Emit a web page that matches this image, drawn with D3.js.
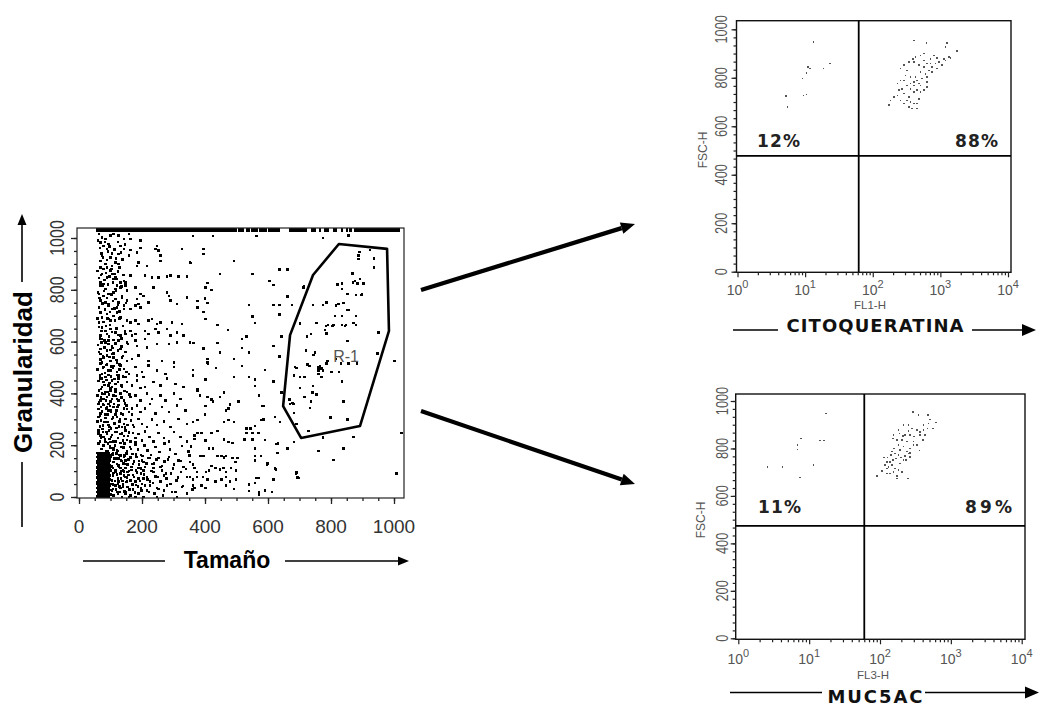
<!DOCTYPE html>
<html>
<head>
<meta charset="utf-8">
<script src="https://cdn.jsdelivr.net/npm/d3@7"></script>
<style>
  body { margin: 0; background: #fff; }
  svg { display: block; font-family: "Liberation Sans", Arial, sans-serif; }
</style>
</head>
<body>
<svg id="fig" width="1040" height="707"></svg>
<script>
// ---------------- Datos: panel Tamaño / Granularidad ----------------
const ticksLineales = [0, 200, 400, 600, 800, 1000];
const ticksLog = [1, 10, 100, 1000, 10000];

// eventos dispersos (Tamaño, Granularidad), zona superior izquierda
const nubeSuperior = [
 [63,1015],[73,1003],[84,996],[100,1009],[110,1015],[126,1009],[142,996],[158,1015],[163,996],[195,990],[68,983],[94,977],
 [78,970],[89,957],[131,970],[142,957],[163,954],[195,961],[242,957],[253,951],[248,970],[327,957],[73,932],[100,925],[126,938],[158,932],[184,945],[258,932],
 [68,912],[84,900],[89,887],[105,893],[115,906],[126,900],[184,893],[189,906],[216,893],[258,912],[353,906],[68,887],[78,880],[100,874],[129,887],
 [73,861],[89,848],[110,842],[115,848],[105,861],[131,829],[163,855],[210,855],[232,848],[253,848],[279,851],[290,855],[316,851],[343,851],[142,835],[68,829],
 [68,816],[78,822],[84,803],[115,803],[120,816],[131,809],[147,816],[152,797],[179,809],[195,784],[205,777],[237,809],[279,790],[285,777],[343,771],[63,784],[94,784],[110,790],[137,777],[78,777],
 [68,758],[84,752],[94,745],[115,764],[126,752],[142,739],[152,758],[184,764],[189,745],[195,732],[221,752],[290,758],[311,745],[63,732],[105,726],[120,732],[163,726],[179,739],
 [68,713],[73,694],[89,707],[94,687],[100,681],[110,700],[120,713],[131,694],[152,681],[163,674],[179,681],[189,668],[221,681],[232,687],[248,668],[258,674],[295,674],[327,668],[63,674],
 [73,655],[84,642],[89,629],[100,649],[115,636],[131,623],[147,629],[163,642],[168,623],[179,629],[210,642],[221,629],[242,649],[253,636],[279,649],[290,623],[311,636],[332,623],[68,623],
 [73,610],[84,597],[94,604],[105,584],[115,591],[126,604],[137,584],[152,597],[179,604],[184,584],[210,610],[216,578],[248,591],[285,591],[311,597],[353,597],[68,572],[100,568],[131,572],
 [68,552],[78,539],[89,546],[100,526],[110,539],[120,520],[137,539],[152,526],[168,533],[189,546],[221,526],[264,526],[301,520],[73,520],[105,552]
];

// zona inferior izquierda
const nubeInferior = [
 [68,515],[78,502],[89,511],[100,489],[110,506],[120,482],[131,508],[142,495],[158,476],[179,502],[200,482],[221,508],[248,489],[274,476],[301,502],[73,476],[94,472],[126,470],[184,470],
 [68,457],[78,444],[84,463],[94,431],[105,450],[115,437],[126,457],[137,424],[152,444],[168,431],[184,450],[205,463],[210,424],[237,444],[258,431],[279,457],[306,437],[332,424],[73,424],[100,421],[147,463],[195,421],
 [63,412],[73,399],[84,405],[89,386],[100,412],[110,392],[120,379],[131,399],[142,373],[152,405],[163,386],[179,392],[195,373],[216,399],[232,379],[258,392],[274,373],[301,399],[322,379],[68,373],[100,369],[78,379],[115,408],
 [62,360],[70,347],[78,356],[87,341],[94,360],[102,328],[110,347],[119,334],[126,356],[133,322],[142,341],[150,354],[158,328],[168,341],[184,354],[195,328],[210,341],[226,360],[242,322],[264,347],[285,328],[311,354],[338,334],[68,322],[84,318],[115,318],[94,334],
 [62,309],[70,296],[76,277],[84,305],[91,289],[97,270],[105,302],[112,283],[120,309],[129,292],[137,270],[147,302],[154,279],[165,296],[174,270],[189,302],[200,283],[216,270],[232,300],[248,279],[269,292],[290,270],[316,302],[343,283],[66,270],[119,266],[142,283],
 [62,257],[68,238],[76,251],[83,222],[89,244],[95,257],[102,231],[108,215],[115,251],[123,228],[131,244],[139,219],[147,257],[155,235],[163,215],[171,248],[179,228],[189,244],[200,219],[210,253],[224,231],[237,215],[253,248],[269,228],[285,215],[301,251],[322,231],[343,215],[66,215],[100,212],[142,235],[179,212],
 [62,206],[70,186],[78,199],[86,176],[92,206],[100,189],[107,171],[114,199],[121,180],[128,163],[135,193],[144,206],[152,176],[161,193],[169,167],[179,202],[187,184],[197,163],[207,199],[218,180],[229,163],[242,193],[256,174],[271,206],[288,184],[306,167],[327,197],[348,176],[68,163],[94,163],[142,163],[110,184],
 [102,154],[110,135],[119,148],[126,122],[133,141],[142,154],[150,128],[158,145],[166,116],[174,137],[182,154],[190,125],[200,141],[210,116],[221,150],[232,128],[246,145],[258,116],[271,137],[285,154],[301,125],[316,141],[332,116],[353,135],[108,112],[131,112],[163,154],[205,135],[147,141],[120,128],[189,112],[237,112],
 [100,103],[108,83],[115,96],[123,71],[131,90],[139,103],[147,77],[154,96],[163,64],[171,86],[180,103],[188,71],[197,90],[205,103],[216,77],[226,60],[237,96],[250,77],[264,103],[277,71],[292,90],[309,64],[324,96],[343,77],[105,64],[126,60],[152,60],[179,60],[142,83],[205,71],[269,83],
 [100,51],[108,32],[115,45],[123,13],[131,35],[140,51],[147,19],[154,38],[163,6],[171,29],[180,47],[188,13],[197,35],[205,0],[216,26],[226,45],[239,13],[253,32],[267,6],[279,45],[295,19],[311,0],[327,38],[343,13],[110,6],[137,0],[158,0],[179,0],[248,0],[200,51]
];

// banda densa junto al umbral de Tamaño
const bandaIzquierda = [
 [60,990],[66,962],[71,940],[76,925],[82,985],[88,915],[92,948],[97,968],[104,940],[112,955],[118,922],[124,985],[133,945],[138,918],[146,975],
 [59,872],[64,845],[70,858],[75,815],[81,838],[86,866],[92,820],[97,852],[103,880],[108,828],[113,861],[119,842],[124,870],[135,812],[141,858],[148,828],
 [60,790],[65,768],[69,712],[74,748],[79,795],[83,724],[88,768],[93,738],[98,715],[103,782],[108,756],[113,728],[118,798],[123,744],[128,716],[137,768],[143,726],[149,750],
 [59,690],[63,656],[67,612],[72,642],[77,676],[81,604],[86,661],[90,690],[95,620],[99,665],[104,638],[109,606],[114,682],[119,650],[124,626],[129,690],[135,612],[140,660],[146,640],
 [60,588],[64,560],[68,532],[72,596],[76,545],[81,578],[85,510],[89,565],[93,590],[97,540],[101,505],[106,575],[110,555],[115,592],[119,530],[124,566],[128,512],[134,582],[140,545],[148,560],[156,590],
 [59,492],[62,448],[66,470],[69,418],[73,458],[76,498],[80,432],[83,478],[87,452],[90,405],[94,488],[97,440],[101,465],[104,425],[108,498],[112,455],[116,418],[120,472],[124,445],[129,492],[134,430],[139,465],[145,410],[151,482],
 [59,392],[61,340],[64,365],[67,312],[70,385],[73,330],[76,358],[80,398],[83,305],[86,372],[89,345],[92,318],[95,395],[98,352],[101,335],[104,378],[108,308],[111,360],[115,390],[118,325],[122,348],[126,372],[130,302],[135,385],[140,318],[146,362],[152,340],[160,395],[168,318],
 [59,292],[61,245],[63,205],[66,272],[69,228],[72,185],[75,262],[78,232],[81,290],[84,212],[87,252],[90,178],[93,278],[96,224],[99,196],[102,265],[105,240],[109,188],[112,285],[116,215],[119,252],[123,178],[127,272],[131,208],[136,246],[141,192],[146,268],[152,220],[158,250],[165,185],[172,278],[180,228]
];

// base densa a la derecha del bloque saturado
const baseDensa = [
 [100,10],[104,25],[107,48],[111,8],[114,62],[118,30],[121,88],[124,52],[127,118],[130,20],[133,72],[136,140],[139,40],[142,98],[145,160],[148,12],[151,58],[154,125],[157,85],[160,30],
 [163,150],[166,105],[169,48],[172,128],[175,78],[178,18],[181,165],[184,95],[187,40],[190,140],[193,62],[196,110],[199,25],[202,158],[206,88],[210,45],[214,130],[218,68],[222,20],[226,150],
 [230,100],[234,55],[238,130],[243,80],[248,35],[253,150],[258,60],[264,120],[270,25],[276,90],[283,145],[290,50],[298,110],[306,20],[314,75],[322,140],[330,42],[340,108],[350,160],[360,30],
 [99,140],[103,118],[106,165],[109,92],[112,148],[116,104],[119,168],[122,20],[125,148],[129,40],[132,160],[135,100],[138,62],[141,130],[144,22],[147,112],[150,168],[153,76],[156,145],[159,100]
];

// zona central (Tamaño 350-720)
const zonaMedia = [
 [361,1007],[426,1007],[564,1007],[395,958],[395,938],[492,912],[356,903],[448,861],[551,861],[636,879],[662,879],[604,835],[617,819],[407,826],[401,810],[421,800],[712,810],[400,766],[376,757],[407,749],[376,732],[539,741],[617,741],[636,741],[676,741],[662,775],[395,714],[636,705],[401,687],[551,698],[559,672],[702,672],[440,664],[473,645],[532,619],[518,610],[643,619],[363,595],[440,595],[395,574],[518,575],[617,584],[448,559],[539,559],[636,542],[407,533],[407,520],[492,533],
 [409,515],[435,498],[518,506],[590,490],[361,490],[361,470],[402,454],[492,463],[539,463],[558,454],[617,446],[558,429],[691,498],[683,470],[702,463],[718,463],[702,421],[376,418],[376,409],[384,393],[407,386],[421,377],[426,369],[448,386],[460,403],[506,369],[571,393],[643,403],[670,360],[680,360],[402,351],[479,358],[474,341],[467,335],[585,351],[683,325],[400,318],[622,309],[638,290],[361,290],[376,297],[460,290],[474,297],[492,290],[578,297],[691,283],[532,264],[545,264],[558,274],[569,248],[532,248],[551,248],[367,238],[367,225],[376,248],[389,248],[421,248],[440,255],[402,219],[460,223],[474,212],[487,208],[525,223],[551,223],[631,206],[664,189],[683,212],[356,196],[413,187],[426,187],[559,187],[630,171],[386,158],[395,158],[440,158],[452,158],[460,152],[467,158],[487,151],[503,151],[558,158],[558,142],[578,158],[497,135],[598,129],[361,126],[367,112],[421,120],[413,103],[433,112],[448,107],[458,112],[482,112],[498,102],[374,97],[403,97],[467,97],[625,107],[352,77],[361,68],[374,77],[393,77],[407,68],[433,60],[452,68],[467,77],[479,60],[498,68],[564,73],[571,73],[617,68],[691,94],[696,73],[361,45],[367,35],[389,45],[402,35],[467,45],[492,32],[539,49],[558,55],[539,23],[571,17],[571,7],[591,26],[612,19]
];

// región R-1 y derecha
const zonaR1 = [
 [774,1000],[855,1009],[887,932],[887,919],[937,922],[937,887],[866,861],[714,812],[820,820],[834,825],[869,829],[876,835],[892,842],[884,825],[903,825],[834,803],[852,784],[879,781],[898,784],[742,741],[774,741],[786,752],[816,739],[823,745],[839,749],[852,722],[813,700],[834,700],[879,699],[754,672],[791,665],[807,665],[834,665],[848,665],[871,672],[879,664],[781,645],[786,632],[723,619],[737,629],[950,636],[853,602],[721,565],[744,549],[749,559],[816,533],[788,526],[947,555],[1001,526],
 [725,511],[731,506],[765,506],[786,515],[831,515],[855,515],[882,515],[760,489],[774,489],[760,476],[770,463],[802,483],[826,483],[715,463],[834,446],[742,429],[741,403],[754,395],[715,386],[736,369],[839,369],[733,344],[800,309],[853,300],[728,255],[774,229],[871,232],[760,178],[839,187],[807,144],[1024,247],[1008,90],
 [890,947],[924,954],[868,863],[897,780],[855,722],[702,671],[784,660],[805,660],[844,660],[760,501],[770,497],[686,503],[668,377],[678,364],[752,394],[583,351],[585,300],[590,220],[627,205],[662,188],[596,126],[622,111],[617,68],[689,91],[693,75],[590,24],[799,307],[852,297]
];

// bloque saturado: [Granularidad, Tamaño...]
const bloqueSaturado = [
 [3,58,64,70,76,82,88,94],[11,60,66,72,78,84,90,96],[19,58,63,69,75,81,87,93],[27,61,67,73,79,85,91,96],
 [35,58,64,70,76,82,88,94],[43,60,66,72,78,84,90,96],[51,59,65,71,77,83,89,95],[59,58,64,70,76,82,88,94],
 [67,61,67,73,79,85,91,96],[75,58,63,69,75,81,87,93],[83,60,66,72,78,84,90,96],[91,59,65,71,77,83,89,95],
 [99,58,64,70,76,82,88,94],[107,61,67,73,79,85,91,96],[115,58,63,69,75,81,87,93],[123,60,66,72,78,84,90,96],
 [131,59,65,71,77,83,89,95],[139,58,64,70,76,82,88,94],[147,61,67,73,79,85,91,96],[155,58,63,69,75,81,87,93],
 [163,60,66,72,78,84,90,96],[170,59,65,71,77,83,89,95]
];

// eventos saturados en el máximo de Granularidad
const filaSuperiorX = [
 57,63,69,75,81,87,93,99,105,111,117,123,129,135,141,147,153,159,165,171,177,183,189,195,201,207,213,219,225,231,237,243,249,255,
 261,267,273,279,285,291,297,303,309,315,321,327,333,339,345,351,357,363,369,375,381,387,393,399,405,411,417,423,429,435,441,447,
 453,459,465,471,477,483,491,497,509,515,521,533,539,551,557,563,575,581,587,593,605,611,617,623,629,635,671,677,683,689,695,701,
 707,713,719,741,747,765,783,789,809,815,834,850,861,877,883,889,895,901,907,913,919,925,931,937,943,949,955,961,967,973,979,985,
 991,997,1003,1009,1015
];
const filaSuperiorY = 1030;

// región R-1 (vértices)
const puertaR1 = [[825,977],[978,958],[984,641],[892,274],[705,228],[648,351],[670,625],[743,857]];

// ---------------- Datos: paneles de cuadrantes ----------------
const citoUL = [[13.2,948],[11.0,845],[11.8,838],[10.5,820],[9.1,797],[5.2,725],[5.5,680],[9.4,728],[10.5,732],[18.6,838],[23.1,859]];
const citoUR = [
 [406,955],[624,944],[1259,944],[1189,927],[1766,911],[258,838],[288,852],[342,865],[396,879],[406,865],[429,886],[569,900],[569,872],[637,859],[714,879],[800,893],[895,883],[845,859],[755,845],[675,831],
 [895,838],[1062,852],[1122,879],[1330,886],[1409,883],[508,824],[603,817],[637,804],[538,797],[454,790],[406,783],[361,776],[323,769],[288,790],[272,755],[243,749],[288,735],[342,721],[406,742],[454,749],
 [508,742],[480,776],[406,769],[230,728],[258,707],[288,694],[323,707],[361,701],[406,694],[454,673],[383,673],[183,707],[173,687],[205,721],[361,755],[637,783],[637,762],[755,824],[569,845],[480,852],
 [508,893],[714,859],[948,865],[1189,872],[361,804],[305,810],[323,831],[258,790],[230,776],[429,804],[480,714],[454,694],[342,680],[508,769],[569,749]
];
const mucUL = [[2.57,723],[4.18,723],[6.8,815],[6.8,796],[7.67,843],[7.43,678],[11.5,730],[14.2,834],[16.2,834],[17.3,948]];
const mucUR = [
 [289,955],[348,941],[471,941],[508,923],[618,909],[554,885],[466,885],[409,878],[367,871],[329,878],[280,885],[251,899],[213,899],[251,874],[182,878],[188,864],[225,857],[265,857],[302,850],[367,857],
 [400,836],[296,829],[296,815],[329,815],[238,829],[202,836],[154,857],[151,843],[172,836],[359,791],[213,808],[238,787],[251,780],[265,782],[192,795],[163,780],[146,787],[182,772],[225,768],[168,758],
 [151,751],[138,744],[124,744],[118,730],[131,723],[146,730],[163,716],[182,709],[202,702],[172,684],[138,695],[124,695],[106,706],[90,684],[154,702],[246,674],[172,674],[124,716],[213,751],[192,737],
 [265,765],[233,751],[158,801],[182,815],[209,853],[409,899],[481,906],[142,772],[127,763],[114,763],[432,857],[265,801],[196,763]
];
const cortesCito = [62, 478];
const cortesMuc = [60, 474];
const porcentajesCito = ["12%", "88%"];
const porcentajesMuc = ["11%", "89%"];

// ---------------- Dibujo ----------------
const svg = d3.select("#fig");

function flecha(g, x1, y1, x2, y2, ancho, largo, media) {
  const ang = Math.atan2(y2 - y1, x2 - x1);
  const bx = x2 - largo * Math.cos(ang), by = y2 - largo * Math.sin(ang);
  g.append("line").attr("x1", x1).attr("y1", y1).attr("x2", bx).attr("y2", by)
    .attr("stroke", "#000").attr("stroke-width", ancho);
  const px = -Math.sin(ang) * media, py = Math.cos(ang) * media;
  g.append("polygon")
    .attr("points", [[x2, y2], [bx + px, by + py], [bx - px, by - py]].map(p => p.join(",")).join(" "))
    .attr("fill", "#000");
}

// --- Panel principal ---
const xMain = d3.scaleLinear().domain([0, 1000]).range([79, 394]);
const yMain = d3.scaleLinear().domain([0, 1000]).range([497, 238]);
const main = svg.append("g");

const eventos = [].concat(nubeSuperior, nubeInferior, bandaIzquierda, baseDensa, zonaMedia, zonaR1,
  bloqueSaturado.flatMap(([y, ...xs]) => xs.map(x => [x, y])));

const capaEventos = main.append("g").attr("shape-rendering", "crispEdges");
capaEventos.selectAll("rect.ev").data(eventos).join("rect")
  .attr("class", "ev")
  .attr("x", d => xMain(d[0]) - 1.2)
  .attr("y", d => yMain(d[1]) - 1.2)
  .attr("width", 2.5).attr("height", 2.5)
  .attr("fill", "#000");

capaEventos.selectAll("rect.sat").data(filaSuperiorX).join("rect")
  .attr("class", "sat")
  .attr("x", d => xMain(d) - 1.2)
  .attr("y", yMain(filaSuperiorY) - 2)
  .attr("width", 2.5).attr("height", 4)
  .attr("fill", "#000");

main.append("path")
  .attr("d", d3.line().x(d => xMain(d[0])).y(d => yMain(d[1])).curve(d3.curveLinearClosed)(puertaR1))
  .attr("fill", "none").attr("stroke", "#000").attr("stroke-width", 2.6).attr("stroke-linejoin", "round");

main.append("text")
  .attr("x", xMain(848)).attr("y", yMain(522))
  .attr("text-anchor", "middle")
  .attr("font-size", 16).attr("fill", "#555")
  .text("R-1");

main.append("rect").attr("x", 77).attr("y", 228).attr("width", 327).attr("height", 270)
  .attr("fill", "none").attr("stroke", "#222").attr("stroke-width", 1.2);

// ejes
const ejeX = main.append("g").attr("transform", "translate(0,498)");
ejeX.append("g").call(d3.axisBottom(xMain).tickValues(d3.range(0, 1001, 50)).tickSize(3).tickFormat(""));
ejeX.append("g").call(d3.axisBottom(xMain).tickValues(ticksLineales).tickSize(6).tickFormat(""));
const ejeY = main.append("g").attr("transform", "translate(77,0)");
ejeY.append("g").call(d3.axisLeft(yMain).tickValues(d3.range(0, 1001, 50)).tickSize(3).tickFormat(""));
ejeY.append("g").call(d3.axisLeft(yMain).tickValues(ticksLineales).tickSize(6).tickFormat(""));
main.selectAll(".domain").remove();
main.selectAll(".tick line").attr("stroke", "#222").attr("stroke-width", 1.3);

main.selectAll("text.tx").data(ticksLineales).join("text")
  .attr("class", "tx")
  .attr("x", d => xMain(d)).attr("y", 533)
  .attr("text-anchor", "middle").attr("font-size", 19).attr("fill", "#333")
  .text(d => d);
main.selectAll("text.ty").data(ticksLineales).join("text")
  .attr("class", "ty")
  .attr("transform", d => `translate(64,${yMain(d)}) rotate(-90) scale(0.8,1)`)
  .attr("text-anchor", "middle").attr("font-size", 20).attr("fill", "#333")
  .text(d => d);

// títulos de ejes con flechas
main.append("text").attr("x", 227).attr("y", 568).attr("text-anchor", "middle")
  .attr("font-size", 23).attr("font-weight", "bold").attr("fill", "#000").text("Tamaño");
main.append("line").attr("x1", 83).attr("x2", 165).attr("y1", 561).attr("y2", 561)
  .attr("stroke", "#000").attr("stroke-width", 1.6);
flecha(main, 285, 561, 409, 561, 1.6, 11, 4.5);

main.append("text").attr("transform", "translate(32,372) rotate(-90)").attr("text-anchor", "middle")
  .attr("font-size", 26).attr("font-weight", "bold").attr("fill", "#000").text("Granularidad");
main.append("line").attr("x1", 22).attr("x2", 22).attr("y1", 527).attr("y2", 462)
  .attr("stroke", "#000").attr("stroke-width", 1.6);
flecha(main, 22, 282, 22, 214, 1.6, 11, 4.5);

// flechas gruesas
flecha(svg, 421, 290, 635, 224, 4.2, 14, 6);
flecha(svg, 421, 411, 635, 484, 4.2, 14, 6);

// --- Paneles de cuadrantes ---
function panelCuadrante(o) {
  const g = svg.append("g");
  const x = d3.scaleLog().domain([1, 10000]).range(o.xr);
  const y = d3.scaleLinear().domain([0, 1000]).range(o.yr);
  const [fx0, fy0, fx1, fy1] = o.marco;

  g.append("g").attr("shape-rendering", "crispEdges")
    .selectAll("rect.p").data(o.puntos).join("rect")
    .attr("class", "p")
    .attr("x", d => x(d[0]) - 0.7).attr("y", d => y(d[1]) - 0.7)
    .attr("width", 1.6).attr("height", 1.6)
    .attr("fill", "#555");

  g.append("rect").attr("x", fx0).attr("y", fy0).attr("width", fx1 - fx0).attr("height", fy1 - fy0)
    .attr("fill", "none").attr("stroke", "#111").attr("stroke-width", 1.4);
  g.append("line").attr("x1", x(o.cortes[0])).attr("x2", x(o.cortes[0])).attr("y1", fy0).attr("y2", fy1)
    .attr("stroke", "#000").attr("stroke-width", 1.8);
  g.append("line").attr("x1", fx0).attr("x2", fx1).attr("y1", y(o.cortes[1])).attr("y2", y(o.cortes[1]))
    .attr("stroke", "#000").attr("stroke-width", 1.8);

  const menoresLog = d3.range(0, 4).flatMap(e => d3.range(2, 10).map(k => k * Math.pow(10, e)));
  const ax = g.append("g").attr("transform", `translate(0,${fy1})`);
  ax.append("g").call(d3.axisBottom(x).tickValues(menoresLog).tickSize(3).tickFormat(""));
  ax.append("g").call(d3.axisBottom(x).tickValues(ticksLog).tickSize(5).tickFormat(""));
  const ay = g.append("g").attr("transform", `translate(${fx0},0)`);
  ay.append("g").call(d3.axisLeft(y).tickValues(d3.range(0, 1000.1, 200 / 6)).tickSize(3).tickFormat(""));
  ay.append("g").call(d3.axisLeft(y).tickValues(ticksLineales).tickSize(5).tickFormat(""));
  g.selectAll(".domain").remove();
  g.selectAll(".tick line").attr("stroke", "#222").attr("stroke-width", 1.2);

  const lx = g.selectAll("text.lx").data(ticksLog).join("text")
    .attr("class", "lx")
    .attr("x", d => x(d)).attr("y", o.baseX)
    .attr("text-anchor", "middle").attr("font-size", 14).attr("fill", "#555");
  lx.append("tspan").text("10");
  lx.append("tspan").attr("dy", -7).attr("font-size", 11).text(d => Math.round(Math.log10(d)));

  g.selectAll("text.ly").data(ticksLineales).join("text")
    .attr("class", "ly")
    .attr("transform", d => `translate(${o.xLabY},${y(d)}) rotate(-90) scale(0.8,1)`)
    .attr("text-anchor", "middle").attr("font-size", 16).attr("fill", "#555")
    .text(d => d);

  g.append("text").attr("x", o.canal[1]).attr("y", o.canal[2]).attr("text-anchor", "middle")
    .attr("font-size", 11.5).attr("fill", "#555").text(o.canal[0]);
  g.append("text").attr("transform", `translate(${o.fsc[0]},${o.fsc[1]}) rotate(-90)`)
    .attr("text-anchor", "middle").attr("font-size", 12).attr("fill", "#555").text("FSC-H");

  o.etiquetas.forEach((t, i) => {
    g.append("text").attr("x", o.posPct[i][0]).attr("y", o.posPct[i][1])
      .attr("font-family", "'DejaVu Sans', sans-serif")
      .attr("font-size", 17).attr("font-weight", "bold").attr("fill", "#222")
      .attr("textLength", o.posPct[i][2]).attr("lengthAdjust", "spacing")
      .text(t);
  });

  g.append("text").attr("x", o.titulo[1]).attr("y", o.titulo[2]).attr("text-anchor", "middle")
    .attr("font-family", "'DejaVu Sans', sans-serif")
    .attr("font-size", 18).attr("font-weight", "bold").attr("fill", "#111")
    .attr("textLength", o.titulo[3]).attr("lengthAdjust", "spacing")
    .text(o.titulo[0]);
  g.append("line").attr("x1", o.linea[0]).attr("x2", o.linea[1]).attr("y1", o.linea[4]).attr("y2", o.linea[4])
    .attr("stroke", "#000").attr("stroke-width", 1.6);
  flecha(g, o.linea[2], o.linea[4], o.linea[3], o.linea[4], 1.6, 14, 6);
}

panelCuadrante({
  xr: [737.5, 1008], yr: [271.7, 29.3], marco: [736.5, 20.7, 1011, 272.3],
  puntos: citoUL.concat(citoUR), cortes: cortesCito, etiquetas: porcentajesCito,
  posPct: [[757, 147, 43], [955, 147, 43]],
  baseX: 295, xLabY: 727, canal: ["FL1-H", 870, 309], fsc: [707, 150],
  titulo: ["CITOQUERATINA", 875, 332, 177], linea: [733, 778, 972, 1036, 330]
});
panelCuadrante({
  xr: [738.3, 1021.7], yr: [638.3, 401], marco: [735.7, 394, 1025, 639.3],
  puntos: mucUL.concat(mucUR), cortes: cortesMuc, etiquetas: porcentajesMuc,
  posPct: [[758, 513, 43], [965, 513, 47]],
  baseX: 664, xLabY: 728, canal: ["FL3-H", 873, 679], fsc: [705, 520],
  titulo: ["MUC5AC", 875, 703, 95], linea: [730, 822, 925, 1039, 692.5]
});
</script>
</body>
</html>
